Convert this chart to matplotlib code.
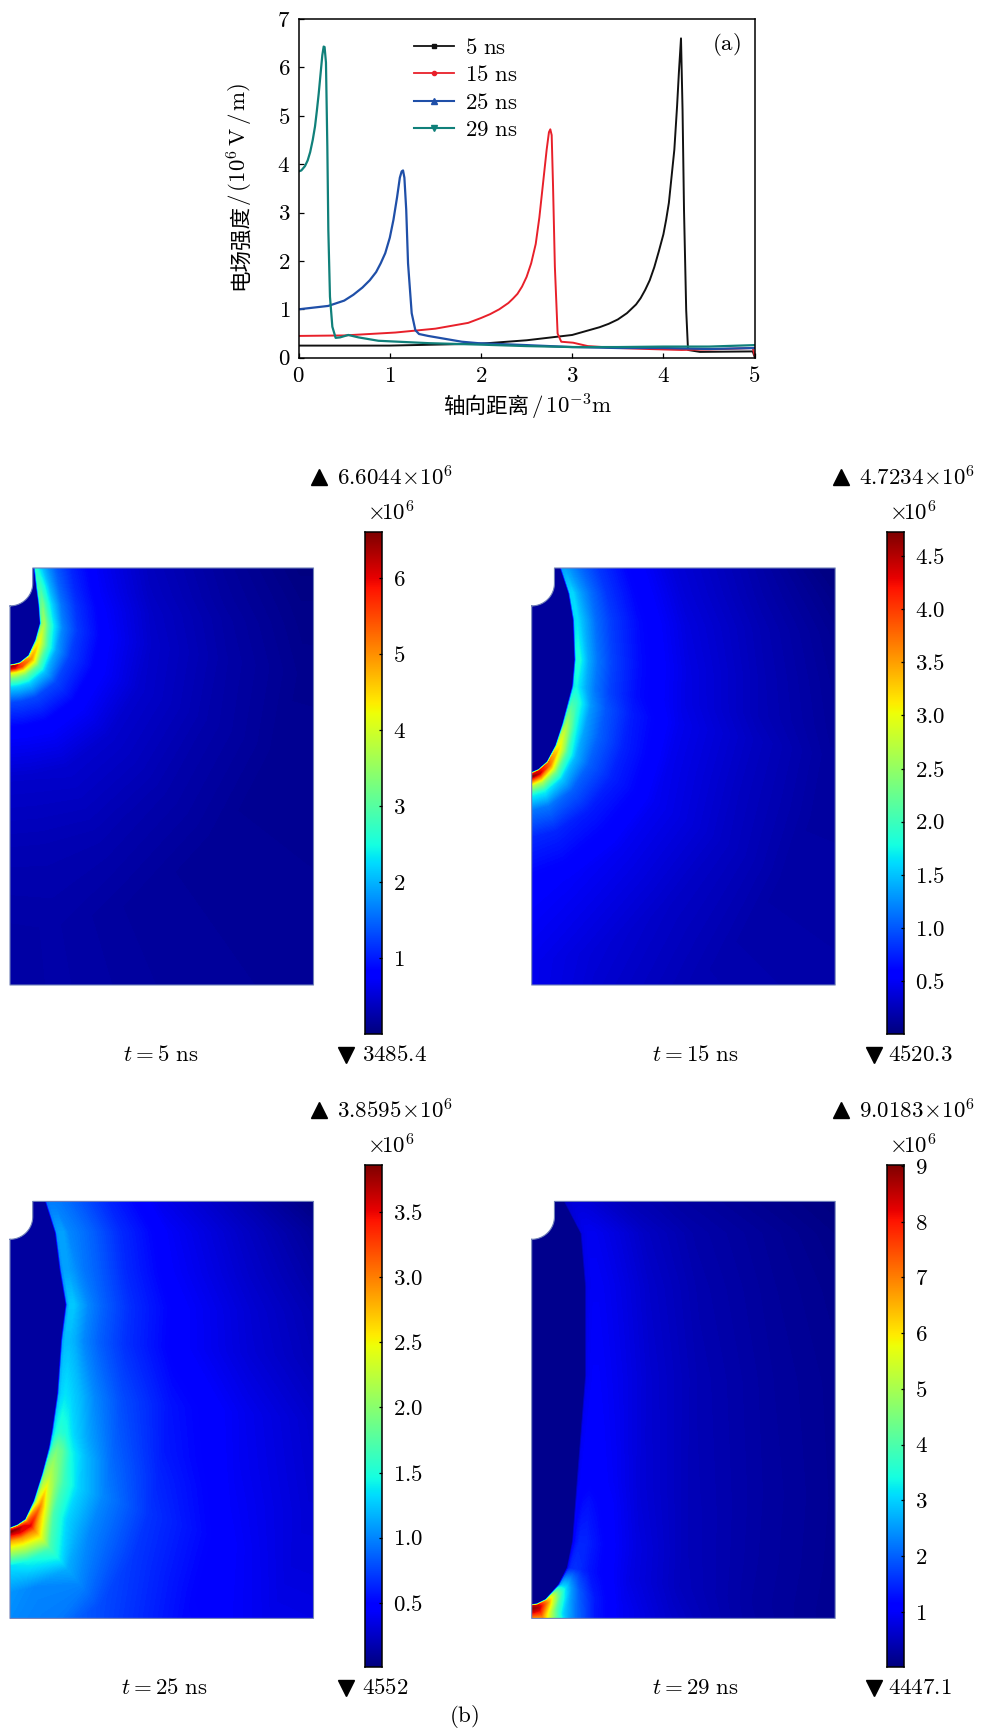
import numpy as np
import matplotlib
matplotlib.use("Agg")
import matplotlib.pyplot as plt
from matplotlib.lines import Line2D
from matplotlib.patches import Polygon, Rectangle
from matplotlib.colors import Normalize

plt.rcParams["mathtext.fontset"] = "cm"
plt.rcParams["font.family"] = ["cmr10", "DejaVu Sans"]
plt.rcParams["axes.formatter.use_mathtext"] = True

W, H = 982, 1730
FS = 16.5

# ---- line chart data (a)
x_5ns = [0, 1, 1.5, 2, 2.5, 3, 3.3, 3.4, 3.5, 3.6, 3.7, 3.75, 3.8, 3.85, 3.9, 3.95, 4.0, 4.03, 4.06, 4.09, 4.12, 4.15, 4.17, 4.193, 4.21, 4.226, 4.25, 4.27, 4.4, 4.98, 5]
y_5ns = [.25, .25, .27, .29, .36, .47, .63, .7, .79, .92, 1.1, 1.23, 1.4, 1.6, 1.87, 2.2, 2.55, 2.85, 3.2, 3.75, 4.3, 5.2, 5.9, 6.6, 5.12, 3.05, .98, .16, .12, .13, .02]
x_15ns = [0, .5, 1.06, 1.5, 1.86, 2.0, 2.1, 2.2, 2.3, 2.35, 2.4, 2.45, 2.5, 2.55, 2.6, 2.64, 2.68, 2.72, 2.745, 2.76, 2.775, 2.79, 2.81, 2.84, 2.88, 3.01, 3.17, 3.5, 4, 4.2, 4.5, 4.98, 5]
y_15ns = [.45, .46, .52, .6, .72, .82, .9, 1.0, 1.13, 1.22, 1.32, 1.47, 1.67, 1.95, 2.35, 2.9, 3.6, 4.3, 4.66, 4.72, 4.6, 3.54, 1.88, .5, .33, .31, .24, .2, .17, .16, .17, .2, .05]
x_25ns = [0, .325, .5, .6, .7, .78, .85, .9, .95, 1.0, 1.04, 1.08, 1.11, 1.13, 1.145, 1.16, 1.18, 1.2, 1.24, 1.28, 1.32, 1.42, 1.79, 1.97, 2.5, 3, 3.5, 4, 4.5, 5]
y_25ns = [1.0, 1.07, 1.18, 1.3, 1.45, 1.6, 1.77, 1.95, 2.16, 2.48, 2.85, 3.32, 3.72, 3.85, 3.87, 3.72, 3.06, 1.95, .92, .57, .49, .45, .33, .3, .26, .22, .2, .2, .18, .2]
x_29ns = [0, .03, .07, .1, .127, .155, .18, .2, .22, .24, .26, .275, .285, .30, .315, .326, .344, .37, .406, .455, .545, .656, .875, 1.43, 2, 2.5, 3, 3.5, 4, 4.5, 5]
y_29ns = [3.85, 3.87, 3.96, 4.08, 4.25, 4.5, 4.78, 5.1, 5.45, 5.85, 6.25, 6.43, 6.42, 6.1, 4.37, 2.64, 1.26, .64, .41, .42, .47, .42, .35, .3, .27, .24, .22, .22, .23, .23, .26]

# ---- field maps (b): one row per front point, columns are distances (mm) along a ray leaving it
d_nodes = [0, .03, .06, .11, .18, .3, .5, .85, 1.5, 2.5, 3.5]

p1_front_r = [.31, .34, .37, .39, .33, .24, .13, .06, 0]
p1_front_z = [5.5, 5.25, 5.03, 4.77, 4.55, 4.35, 4.26, 4.24, 4.23]
p1_angle = [0, -4, -5, -11, -25, -45, -66, -81, -90]
p1_vals = [
    [.1, 2.6, 2.4, 2.1, 1.8, 1.4, 1.05, .7, .38, .18, .02],
    [.1, 2.8, 2.8, 2.5, 2.0, 1.5, 1.1, .72, .4, .2, .06],
    [.1, 3.0, 3.2, 2.7, 2.2, 1.6, 1.15, .75, .42, .22, .07],
    [.1, 3.3, 3.6, 3.0, 2.4, 1.7, 1.2, .78, .44, .24, .1],
    [.1, 3.8, 4.2, 3.6, 2.8, 1.9, 1.25, .82, .46, .26, .12],
    [.1, 4.5, 4.9, 4.2, 3.1, 2.1, 1.3, .82, .46, .27, .14],
    [.1, 5.5, 5.5, 4.3, 3.2, 2.2, 1.3, .82, .47, .3, .18],
    [.1, 6.3, 5.9, 4.3, 3.3, 2.2, 1.3, .8, .45, .3, .24],
    [.1, 6.4, 6.0, 4.3, 3.3, 2.2, 1.3, .8, .45, .3, .23],
]

p2_front_r = [.37, .48, .54, .56, .53, .48, .4, .31, .2, .09, 0]
p2_front_z = [5.5, 5.17, 4.82, 4.29, 3.94, 3.75, 3.44, 3.16, 2.95, 2.85, 2.81]
p2_angle = [0, -1, -3, -5, -9, -12, -20, -30, -50, -75, -90]
p2_vals = [
    [.05, 1.3, 1.35, 1.3, 1.2, 1.05, .85, .62, .38, .2, .02],
    [.05, 1.6, 1.6, 1.45, 1.3, 1.1, .85, .62, .38, .2, .05],
    [.05, 1.6, 1.65, 1.5, 1.35, 1.1, .88, .64, .4, .22, .08],
    [.05, 1.8, 1.85, 1.65, 1.4, 1.15, .9, .65, .42, .23, .1],
    [.05, 1.7, 1.75, 1.6, 1.4, 1.15, .9, .65, .43, .24, .12],
    [.05, 1.8, 2.0, 1.95, 1.7, 1.3, 1.0, .72, .46, .28, .14],
    [.05, 2.3, 2.6, 2.3, 1.8, 1.35, 1.05, .75, .46, .28, .15],
    [.05, 3.0, 3.1, 2.7, 2.05, 1.45, 1.05, .75, .48, .3, .16],
    [.05, 3.8, 3.7, 3.1, 2.3, 1.55, 1.05, .72, .48, .3, .2],
    [.05, 4.3, 4.4, 3.6, 2.6, 1.75, 1.15, .76, .52, .38, .3],
    [.05, 4.0, 4.7, 3.8, 2.7, 1.75, 1.15, .78, .55, .46, .45],
]

p3_front_r = [.46, .59, .65, .73, .67, .62, .55, .51, .42, .31, .2, .1, 0]
p3_front_z = [5.5, 5.09, 4.61, 4.14, 3.67, 2.96, 2.47, 2.25, 1.9, 1.55, 1.31, 1.24, 1.2]
p3_angle = [0, 0, -2, -2, -4, -6, -11, -15, -20, -30, -50, -75, -90]
p3_vals = [
    [.04, .9, .95, .95, .95, .9, .8, .62, .38, .2, .02],
    [.04, 1.05, 1.1, 1.1, 1.0, .95, .85, .65, .42, .24, .08],
    [.04, 1.0, 1.1, 1.1, 1.05, .95, .85, .65, .43, .26, .12],
    [.04, 1.1, 1.25, 1.25, 1.15, 1.0, .85, .66, .45, .28, .15],
    [.04, 1.1, 1.2, 1.2, 1.15, 1.0, .85, .67, .46, .3, .18],
    [.04, 1.2, 1.3, 1.35, 1.3, 1.2, 1.0, .78, .55, .38, .25],
    [.04, 1.3, 1.45, 1.55, 1.5, 1.3, 1.1, .85, .58, .4, .28],
    [.04, 1.4, 1.75, 1.9, 1.8, 1.45, 1.2, .9, .62, .42, .3],
    [.04, 1.9, 2.1, 2.2, 2.0, 1.65, 1.3, 1.0, .68, .46, .32],
    [.04, 2.0, 2.5, 2.9, 2.4, 1.7, 1.3, 1.0, .7, .48, .38],
    [.04, 2.8, 3.2, 3.5, 3.0, 2.5, 1.7, 1.15, .78, .6, .55],
    [.04, 3.2, 3.7, 3.5, 2.9, 2.3, 1.45, 1.0, .95, .9, .9],
    [.04, 3.3, 3.85, 3.4, 2.8, 2.25, 1.35, 1.05, .99, .99, .99],
]

p4_front_r = [.42, .64, .7, .7, .59, .57, .53, .46, .35, .18, .07, 0]
p4_front_z = [5.5, 5.08, 4.38, 3.2, 1.82, 1.55, 1.02, .67, .45, .255, .2, .19]
p4_angle = [0, 0, -1, -2, -4, -5, -6, -10, -20, -40, -70, -90]
p4_vals = [
    [.05, .6, .65, .7, .72, .7, .6, .45, .3, .15, .02],
    [.05, .8, .85, .9, .9, .85, .75, .55, .35, .2, .05],
    [.05, .85, .9, .95, .95, .9, .8, .6, .38, .22, .1],
    [.05, .9, .95, 1.0, 1.0, .95, .85, .65, .42, .25, .14],
    [.05, .9, 1.0, 1.05, 1.1, 1.05, .95, .7, .45, .28, .16],
    [.05, 1.0, 1.1, 1.2, 1.25, 1.15, 1.0, .72, .46, .28, .16],
    [.05, 1.1, 1.3, 1.45, 1.45, 1.3, 1.05, .78, .47, .28, .16],
    [.05, 1.3, 1.5, 1.55, 1.5, 1.3, 1.1, .8, .5, .28, .16],
    [.05, 2.6, 3.0, 3.0, 2.5, 1.9, 1.35, .95, .65, .35, .2],
    [.05, 6.5, 6.5, 5.5, 4.2, 3.0, 2.2, 1.3, .8, .5, .3],
    [.05, 8.3, 8.6, 8.0, 7.0, 6.0, 5.0, 4.0, 3.0, 2.0, 1.0],
    [.05, 8.5, 8.9, 8.3, 6.8, 6.0, 5.0, 4.0, 3.0, 2.0, 1.0],
]

vmin_all = [.0034854, .0045203, .004552, .0044471]
vmax_all = [6.6044, 4.7234, 3.8595, 9.0183]
max_labels = ["6.6044", "4.7234", "3.8595", "9.0183"]
min_labels = ["3485.4", "4520.3", "4552", "4447.1"]
times = ["5", "15", "25", "29"]
cbar_ticks = [[1, 2, 3, 4, 5, 6],
              [.5, 1, 1.5, 2, 2.5, 3, 3.5, 4, 4.5],
              [.5, 1, 1.5, 2, 2.5, 3, 3.5],
              [1, 2, 3, 4, 5, 6, 7, 8, 9]]
cbar_labels = [["1", "2", "3", "4", "5", "6"],
               ["0.5", "1.0", "1.5", "2.0", "2.5", "3.0", "3.5", "4.0", "4.5"],
               ["0.5", "1.0", "1.5", "2.0", "2.5", "3.0", "3.5"],
               ["1", "2", "3", "4", "5", "6", "7", "8", "9"]]


def px_axes(fig, left, top, right, bottom):
    return fig.add_axes([left / W, 1 - bottom / H, (right - left) / W, (bottom - top) / H])


fig = plt.figure(figsize=(W / 100, H / 100), dpi=100)

# ---- (a)
ax = px_axes(fig, 298.6, 19, 754.6, 357.7)
ax.plot(x_5ns, y_5ns, color="#111111", lw=1.4)
ax.plot(x_15ns, y_15ns, color="#e8202a", lw=1.4)
ax.plot(x_25ns, y_25ns, color="#1f4fa8", lw=1.6)
ax.plot(x_29ns, y_29ns, color="#10807a", lw=1.6)
ax.set_xlim(0, 5)
ax.set_ylim(0, 7)
ax.set_xticks(range(6))
ax.set_xticklabels([f"${i}$" for i in range(6)], fontsize=FS)
ax.set_yticks(range(8))
ax.set_yticklabels([f"${i}$" for i in range(8)], fontsize=FS)
ax.tick_params(direction="in", length=3.5, width=0.9, pad=6)
for sp in ax.spines.values():
    sp.set_linewidth(1.1)
handles = [
    Line2D([], [], color="#111111", lw=1.3, marker="s", ms=2.5),
    Line2D([], [], color="#e8202a", lw=1.3, marker="o", ms=3),
    Line2D([], [], color="#1f4fa8", lw=1.5, marker="^", ms=4),
    Line2D([], [], color="#10807a", lw=1.5, marker="v", ms=4),
]
ax.legend(handles, [r"$5\ \mathrm{ns}$", r"$15\ \mathrm{ns}$", r"$25\ \mathrm{ns}$", r"$29\ \mathrm{ns}$"],
          loc="upper left", bbox_to_anchor=(0.252, 0.945), frameon=False, fontsize=FS,
          numpoints=1, handlelength=1.75, handletextpad=0.5, labelspacing=0.33,
          borderpad=0, borderaxespad=0)

# ---- (b)
panels = [
    (p1_front_r, p1_front_z, p1_angle, p1_vals),
    (p2_front_r, p2_front_z, p2_angle, p2_vals),
    (p3_front_r, p3_front_z, p3_angle, p3_vals),
    (p4_front_r, p4_front_z, p4_angle, p4_vals),
]
lefts = [10, 531.7, 10, 531.7]
tops = [568, 568, 1201.4, 1201.4]
d_arr = np.array(d_nodes + [8.0])  # last node runs past the frame, the axes clip it
top_overlay = fig.add_axes([0, 0, 1, 1], zorder=5)
top_overlay.set_xlim(0, W)
top_overlay.set_ylim(H, 0)
top_overlay.axis("off")
caption_x = [161, 695, 164, 695]
min_marker_x = [346, 874, 346, 874]
min_text_x = [362, 888, 362, 888]

for i, (fr, fz, angle, vals) in enumerate(panels):
    vmin, vmax = vmin_all[i], vmax_all[i]
    norm = Normalize(vmin, vmax)
    cmap = plt.get_cmap("jet")
    left, top = lefts[i], tops[i]
    pa = px_axes(fig, left, top, left + 303.5, top + 417)
    fr_a, fz_a = np.array(fr), np.array(fz)
    rad = np.radians(angle)
    X = fr_a[:, None] + np.cos(rad)[:, None] * d_arr
    Y = fz_a[:, None] + np.sin(rad)[:, None] * d_arr
    Z = np.array(vals)
    Z = np.column_stack([Z, Z[:, -1]])
    pa.set_xlim(0, 4)
    pa.set_ylim(0, 5.5)
    pa.axis("off")
    dark = cmap(norm(vals[0][0] + .08))
    pa.add_patch(Rectangle((0, 0), 4, 5.5, facecolor=dark, edgecolor="none", zorder=0))
    pa.contourf(X, Y, Z, levels=np.linspace(vmin, vmax, 256), cmap=cmap, norm=norm, extend="both", zorder=1)
    inner = list(zip(fr, fz)) + [(0, 5.5)]
    pa.add_patch(Polygon(inner, closed=True, facecolor=dark, edgecolor="none", zorder=1.5))
    theta = np.linspace(-np.pi / 2, 0, 30)
    arc_x = .3 * np.cos(theta)
    arc_y = 5.3 + .3 * np.sin(theta)
    needle = list(zip(arc_x, arc_y)) + [(.3, 5.56), (-.05, 5.56), (-.05, 5.0)]
    pa.add_patch(Polygon(needle, closed=True, facecolor="white", edgecolor="none", zorder=3, clip_on=False))
    ox = np.concatenate([arc_x, [.3, 4, 4, 0, 0]])
    oy = np.concatenate([arc_y, [5.5, 5.5, 0, 0, 5.0]])
    pa.plot(ox, oy, color="#7080b8", lw=0.8, zorder=4, clip_on=False)

    # colour bar
    cb_left = left + 355
    cb = px_axes(fig, cb_left, top - 36 + (-.4 if i > 1 else 0), cb_left + 17, top + 466)
    grad = np.linspace(vmin, vmax, 256).reshape(-1, 1)
    cb.imshow(grad, aspect="auto", origin="lower", cmap=cmap, norm=norm, extent=(0, 1, vmin, vmax))
    cb.set_xticks([])
    cb.yaxis.tick_right()
    cb.set_yticks(cbar_ticks[i])
    cb.set_yticklabels([f"${t}$" for t in cbar_labels[i]], fontsize=FS)
    cb.tick_params(axis="y", direction="in", length=2.5, width=0.9, pad=8)
    for sp in cb.spines.values():
        sp.set_linewidth(1.1)

    dy = top - 568
    dx = left - 10
    top_overlay.plot(left + 309.5, 477 + dy, marker="^", color="black", ms=11, ls="none")
    top_overlay.text(left + 327, 477 + dy, rf"${max_labels[i]}\!\times\!10^6$", fontsize=FS, va="center", ha="left")
    top_overlay.text(367 + dx, 512 + dy, r"$\times\!10^6$", fontsize=FS, va="center", ha="left")
    top_overlay.plot(min_marker_x[i], 1055 + dy, marker="v", color="black", ms=11, ls="none")
    top_overlay.text(min_text_x[i], 1055 + dy, f"${min_labels[i]}$", fontsize=FS, va="center", ha="left")
    top_overlay.text(caption_x[i], 1055 + dy, rf"$t={times[i]}\ \mathrm{{ns}}$", fontsize=FS, va="center", ha="center")

# ---- labels drawn in pixel positions, Chinese and maths are separate fonts
cjk = "Noto Sans CJK SC"
top_overlay.text(239.5, 290, "电场强度", family=cjk, fontsize=15.5, rotation=90, ha="center", va="bottom")
top_overlay.text(239.5, 206, r"$/\,(10^6\,\mathrm{V}\,/\,\mathrm{m})$", fontsize=FS, rotation=90, ha="center", va="bottom")
top_overlay.text(443, 407, "轴向距离", family=cjk, fontsize=15.5, ha="left", va="center")
top_overlay.text(531, 407, r"$/\,10^{-3}\mathrm{m}$", fontsize=FS, ha="left", va="center")
top_overlay.text(726, 45, r"$\mathrm{(a)}$", fontsize=FS, ha="center", va="center")
top_overlay.text(464.5, 1717, r"$\mathrm{(b)}$", fontsize=FS, ha="center", va="center")

fig.savefig("out.png", dpi=100)
